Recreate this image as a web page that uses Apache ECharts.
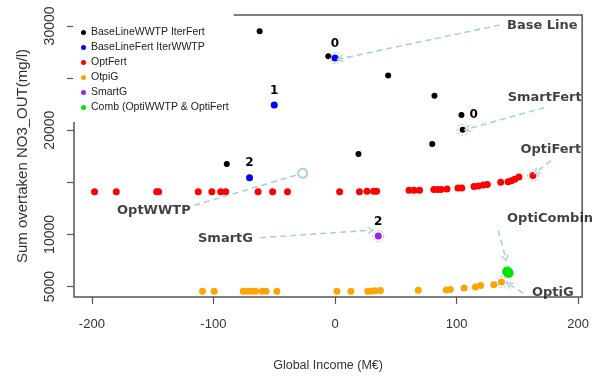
<!DOCTYPE html>
<html>
<head>
<meta charset="utf-8">
<script src="https://cdn.jsdelivr.net/npm/echarts@6/dist/echarts.min.js"></script>
<style>
  html, body { margin: 0; padding: 0; background: #fff; }
  #chart { width: 592px; height: 377px; }
</style>
</head>
<body>
<div id="chart"></div>
<script>
// ---- series names and colours ----
const seriesNames = [
  'BaseLineWWTP IterFert',
  'BaseLineFert IterWWTP',
  'OptFert',
  'OtpiG',
  'SmartG',
  'Comb (OptiWWTP & OptiFert'
];
const seriesColors = ['#000000', '#0000ff', '#ff0000', '#ffa500', '#a020f0', '#00e600'];

// ---- values: [Global Income (M€), Sum overtaken NO3_OUT (mg/l)] ----
const baseLineWWTP = [
  [-62, 29500], [-5.5, 27080], [43.7, 25240], [81.8, 23300], [104, 21460],
  [105, 20030], [80, 18670], [19.3, 17710], [-89, 16760]
];
const baseLineWWTPTags = { 4: '0' };

const baseLineFert = [[0, 26920], [-50, 22410], [-70.3, 15430]];
const baseLineFertTags = ['0', '1', '2'];

const optFert = [
  [-197.8, 14100], [-179.9, 14100], [-146.7, 14100], [-145.1, 14100], [-112.5, 14100],
  [-101.3, 14100], [-94.0, 14100], [-89.9, 14100], [-63.3, 14100], [-51.3, 14100],
  [-39.1, 14100], [3.8, 14100], [20.1, 14100], [26.3, 14150], [31.8, 14150],
  [34.2, 14150], [60.9, 14250], [65.0, 14250], [69.5, 14250], [81.3, 14300],
  [84.5, 14300], [87.2, 14300], [92.1, 14350], [101.1, 14450], [104.3, 14450],
  [114.3, 14600], [117.9, 14650], [122.0, 14750], [125.3, 14800], [136.3, 15000],
  [142.4, 15050], [145.1, 15150], [147.8, 15300], [151.3, 15500], [162.8, 15650]
];

const optiG = [
  [-109, 4550], [-99.4, 4550], [-75.5, 4550], [-72.2, 4550], [-68.7, 4550],
  [-65.4, 4550], [-60, 4550], [-56.8, 4550], [-47.8, 4550], [1.6, 4550],
  [13, 4550], [26.9, 4550], [29.6, 4550], [32.9, 4600], [37.3, 4620],
  [68.5, 4650], [91.5, 4670], [94.8, 4730], [106.2, 4860], [115.5, 4950],
  [119.8, 5110], [130.6, 5170], [136.9, 5430]
];

const smartG = [[35.6, 9840]];
const smartGTags = ['2'];

const comb = [[141.6, 6450], [142.8, 6300], [142.2, 6380]];

// ---- axis ticks ----
const xTicks = [-200, -100, 0, 100, 200];
const yTicks = [5000, 10000, 15000, 20000, 25000, 30000];
const yTickLabels = [5000, 10000, 20000, 30000];

// ---- call-outs: text, where the text starts, and the dashed pointer ----
const noteTexts = ['Base Line', 'SmartFert', 'OptiFert', 'OptWWTP', 'SmartG', 'OptiCombin', 'OptiG'];
const notePos = [
  [141.5, 30000], [142, 23114], [152.5, 18095], [-179.3, 12270],
  [-112.7, 9600], [141.5, 11524], [162, 4448]
];
const arrowFrom = [
  [135.5, 30095], [172.2, 22162], [177.7, 17076], [-115.7, 12790],
  [-61.4, 9686], [134.2, 10410], [154.6, 4381]
];
const arrowTo = [
  [3.8, 26829], [108.4, 20095], [165.4, 15971], [-26.6, 15876],
  [29.6, 10410], [140.4, 7714], [143.2, 5238]
];
const arrowEnd = ['chevron', 'chevron', 'chevron', 'circle', 'chevron', 'chevron', 'chevron'];
// points that carry a dashed ring
const ringed = [baseLineFert[0], baseLineWWTP[5], optFert[optFert.length - 1], smartG[0], optiG[optiG.length - 1]];

const SANS = "'Liberation Sans', Arial, sans-serif";
const BOLD = "'DejaVu Sans', Verdana, sans-serif";
const CHEVRON = 'path://M5,0 L10,8 L8.4,8.6 L5,2.6 L1.6,8.6 L0,8 Z';

const tagLabel = {
  show: true, fontFamily: BOLD, fontWeight: 'bold', fontSize: 12, color: '#000'
};

function withTags(points, tags, pos) {
  return points.map((p, i) => {
    const t = tags[i];
    if (t === undefined) return p;
    return { value: p, label: Object.assign({}, tagLabel, { formatter: t, position: pos, distance: 5 }) };
  });
}

function scatter(name, data, color, size, z) {
  return {
    name, type: 'scatter', data, symbol: 'circle', symbolSize: size,
    itemStyle: { color, opacity: 1 }, z: z || 2,
    emphasis: { disabled: true }, silent: true
  };
}

const chart = echarts.init(document.getElementById('chart'), null, { renderer: 'canvas' });

const series = [
  scatter(seriesNames[0], withTags(baseLineWWTP, baseLineWWTPTags, 'right'), seriesColors[0], 6),
  scatter(seriesNames[1], withTags(baseLineFert, baseLineFertTags, 'top'), seriesColors[1], 7, 3),
  scatter(seriesNames[2], optFert, seriesColors[2], 7),
  scatter(seriesNames[3], optiG, seriesColors[3], 7),
  scatter(seriesNames[4], withTags(smartG, smartGTags, 'top'), seriesColors[4], 7),
  scatter(seriesNames[5], comb, seriesColors[5], 10, 3),
  {
    name: 'rings', type: 'scatter', data: ringed, symbol: 'circle', symbolSize: 11,
    itemStyle: { color: 'rgba(0,0,0,0)', borderColor: '#a8a8a8', borderWidth: 1, borderType: [2, 2] },
    silent: true, z: 4
  },
  {
    name: 'notes', type: 'scatter', symbolSize: 0, silent: true, z: 5,
    itemStyle: { color: '#000' },
    data: notePos.map((p, i) => ({
      value: p,
      label: {
        show: true, formatter: noteTexts[i], position: 'right', distance: 0,
        fontFamily: BOLD, fontWeight: 'bold', fontSize: 13, color: '#111'
      }
    })),
    markLine: {
      silent: true, animation: false,
      label: { show: false },
      lineStyle: { color: '#a6d3d6', width: 1.6, type: [6, 4] },
      data: arrowFrom.map((a, i) => [
        { coord: a, symbol: 'none' },
        arrowEnd[i] === 'circle'
          ? { coord: arrowTo[i], symbol: 'emptyCircle', symbolSize: 9 }
          : { coord: arrowTo[i], symbol: CHEVRON, symbolSize: [8, 7] }
      ])
    }
  }
];

const plain = v => String(v);

chart.setOption({
  animation: false,
  backgroundColor: '#ffffff',
  grid: {
    left: 74, right: 6, top: 15, bottom: 78,
    show: true, borderColor: '#555', borderWidth: 1.5, backgroundColor: 'transparent'
  },
  legend: {
    data: seriesNames, orient: 'vertical', left: 73, top: 13,
    padding: [13, 5, 8, 8], itemGap: 2, itemWidth: 5, itemHeight: 5,
    icon: 'circle', backgroundColor: '#ffffff', selectedMode: false,
    textStyle: { fontFamily: SANS, fontSize: 10.5, color: '#222', lineHeight: 13 }
  },
  xAxis: {
    type: 'value', min: -214.7, max: 203.3,
    splitLine: { show: false },
    axisLine: { show: false, onZero: false },
    axisTick: { show: true, length: 7, customValues: xTicks, lineStyle: { color: '#555', width: 1.2 } },
    axisLabel: { customValues: xTicks, formatter: plain, margin: 21, fontFamily: SANS, fontSize: 13, color: '#333' },
    name: 'Global Income (M€)', nameLocation: 'middle', nameGap: 62,
    nameTextStyle: { fontFamily: SANS, fontSize: 12.5, color: '#333' }
  },
  yAxis: {
    type: 'value', min: 4000, max: 31048,
    splitLine: { show: false },
    axisLine: { show: false, onZero: false },
    axisTick: { show: true, length: 7, customValues: yTicks, lineStyle: { color: '#555', width: 1.2 } },
    axisLabel: { customValues: yTickLabels, formatter: plain, rotate: 90, margin: 17, fontFamily: SANS, fontSize: 14, color: '#333' },
    name: 'Sum overtaken NO3_OUT(mg/l)', nameLocation: 'middle', nameGap: 44,
    nameTextStyle: { fontFamily: SANS, fontSize: 15, color: '#333' }
  },
  series
});
</script>
</body>
</html>
